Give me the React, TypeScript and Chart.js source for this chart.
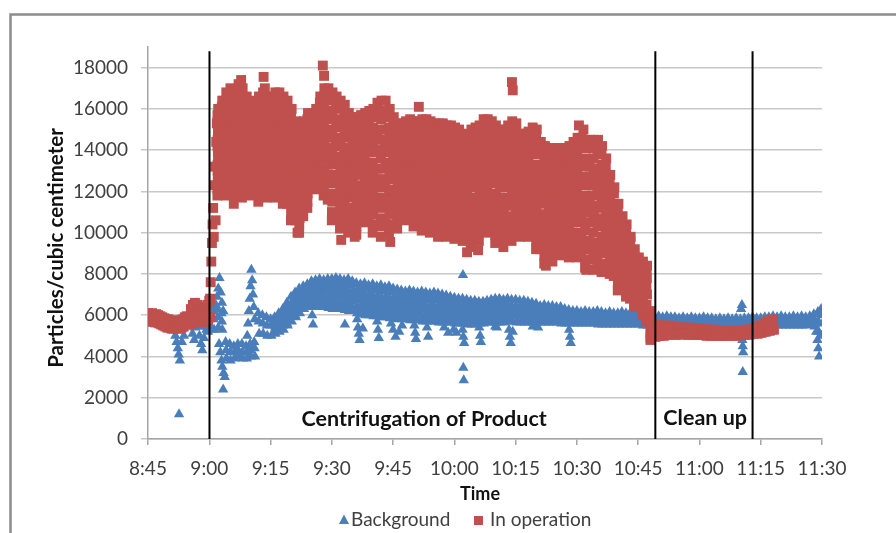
import { useEffect, useRef } from 'react';
import { Chart, registerables } from 'chart.js';

Chart.register(...registerables);

// ---------- axes ----------
const xTickTimes = [525, 540, 555, 570, 585, 600, 615, 630, 645, 660, 675, 690]; // minutes after midnight (8:45 .. 11:30)
const yTickValues = [0, 2000, 4000, 6000, 8000, 10000, 12000, 14000, 16000, 18000];
const xMin = 525;
const xMax = 690;
const yMin = 0;
const yMax = 19000;

// ---------- phase markers ----------
const phaseLineTimes = [540.05, 649.2, 673.0];
const phaseLineTop = 18800;
const phaseLabelTexts = ['Centrifugation of Product', 'Clean up'];
const phaseLabelTimes = [592.6, 661.4];
const phaseLabelValues = [950, 1000];

const legendLabels = ['Background', 'In operation'];

// ---------- "In operation" (red squares) ----------
const opPreStart = 525;
const opPreStep = 0.5;
const opPreHigh = [
  6100, 6050, 6100, 6000, 6050, 6000, 5950, 5900, 5850, 5800,
  5800, 5750, 5700, 5750, 5700, 5650, 5750, 5800, 5900, 5950,
  5900, 6300, 6500, 6600, 6500, 6300, 6200, 6250, 6400, 6500,
  6700,
];
const opPreLow = [
  5750, 5700, 5700, 5650, 5700, 5600, 5550, 5500, 5450, 5400,
  5400, 5350, 5350, 5400, 5350, 5350, 5400, 5450, 5550, 5600,
  5550, 5650, 5800, 5900, 5850, 5700, 5650, 5700, 5750, 5800,
  5900,
];

const opRiseTimes = [540.2, 540.35, 540.5, 540.65, 540.8, 540.95, 541.1, 541.25, 541.4, 541.55, 541.7, 541.85];
const opRiseValues = [6800, 7600, 8600, 9500, 10400, 11200, 9800, 12300, 13200, 10600, 14400, 15300];

// band 9:02 .. 10:48: one entry per minute, eight readings per minute (L0 lowest .. L7 highest)
const opBandStart = 542;
const opBandOffsets = [0, 0.1, 0.05, 0.15, 0.02, 0.12, 0.07, 0.17];
const opBandL0 = [
  11800, 12200, 11800, 12000, 11400, 11800, 11700, 12100, 11800, 11900,
  11500, 12000, 11700, 12100, 11700, 12000, 11400, 11400, 10600, 10600,
  10000, 10800, 11200, 12300, 12100, 12300, 11800, 11600, 10600, 10800,
  10200, 10800, 10000, 10200, 9900, 10600, 10500, 10800, 10000, 10400,
  9800, 10500, 10000, 10400, 10200, 10700, 10600, 10800, 10300, 10600,
  10100, 10500, 10000, 10300, 9800, 10200, 9800, 10100, 9700, 10000,
  9600, 9900, 9300, 9800, 9600, 10400, 10000, 10200, 9500, 9700,
  9300, 9800, 9600, 10200, 9800, 10300, 9800, 10000, 9200, 9200,
  8500, 8800, 8600, 9200, 8900, 9300, 8800, 9200, 8800, 9000,
  8300, 8700, 8200, 8600, 8100, 8400, 8000, 7900, 7200, 7300,
  6900, 6800, 6400, 6400, 6000, 5700, 4800,
];
const opBandL1 = [
  12400, 12900, 12500, 12800, 12200, 12600, 12500, 12800, 12500, 12600,
  12200, 12700, 12400, 12800, 12400, 12700, 12100, 12200, 11400, 11300,
  10700, 11500, 11900, 12800, 12700, 13000, 12500, 12400, 11500, 11700,
  11100, 11600, 10800, 11000, 10700, 11400, 11300, 11600, 10900, 11300,
  10700, 11400, 10900, 11200, 10900, 11500, 11300, 11500, 11000, 11300,
  10900, 11300, 10800, 11100, 10600, 11000, 10600, 10900, 10500, 10800,
  10300, 10600, 10100, 10600, 10400, 11200, 10800, 11000, 10300, 10500,
  10100, 10600, 10400, 11000, 10500, 11000, 10500, 10800, 10000, 10000,
  9300, 9600, 9400, 9900, 9600, 10000, 9600, 10000, 9600, 9900,
  9200, 9600, 9100, 9500, 9000, 9200, 8700, 8600, 7800, 7800,
  7400, 7300, 6800, 6800, 6400, 6100, 5000,
];
const opBandL2 = [
  13000, 13500, 13200, 13500, 12900, 13500, 13200, 13500, 13100, 13200,
  13000, 13500, 13100, 13500, 13200, 13500, 12900, 12900, 12100, 12100,
  11500, 12200, 12500, 13400, 13200, 13600, 13300, 13300, 12400, 12600,
  12000, 12500, 11700, 11900, 11500, 12200, 12000, 12400, 11700, 12200,
  11700, 12300, 11700, 12000, 11700, 12100, 12000, 12200, 11800, 12100,
  11600, 12000, 11500, 11800, 11400, 11800, 11300, 11700, 11200, 11500,
  11100, 11300, 10900, 11400, 11200, 12000, 11600, 11800, 11100, 11300,
  10900, 11500, 11300, 11800, 11200, 11700, 11300, 11600, 10900, 10800,
  10100, 10400, 10200, 10700, 10400, 10800, 10300, 10800, 10500, 10700,
  10100, 10500, 10000, 10400, 9800, 10000, 9400, 9200, 8400, 8400,
  7900, 7700, 7200, 7100, 6700, 6500, 5200,
];
const opBandL3 = [
  13600, 14200, 13900, 14300, 13700, 14300, 14000, 14200, 13800, 13900,
  13700, 14200, 13800, 14200, 13900, 14200, 13600, 13700, 12900, 12800,
  12200, 12900, 13200, 13900, 13800, 14300, 14000, 14100, 13300, 13500,
  12900, 13300, 12500, 12700, 12300, 13000, 12800, 13200, 12600, 13100,
  12600, 13200, 12600, 12800, 12400, 12900, 12700, 13000, 12500, 12800,
  12400, 12800, 12300, 12600, 12200, 12600, 12100, 12500, 12000, 12300,
  11800, 12100, 11700, 12300, 12000, 12800, 12400, 12600, 11900, 12200,
  11700, 12300, 12100, 12600, 11900, 12400, 12000, 12400, 11700, 11600,
  10900, 11300, 11000, 11500, 11100, 11500, 11100, 11600, 11300, 11600,
  11000, 11400, 10900, 11300, 10700, 10800, 10100, 9900, 9000, 8900,
  8400, 8200, 7600, 7500, 7100, 7000, 5400,
];
const opBandL4 = [
  14200, 14800, 14700, 15100, 14500, 15100, 14700, 14900, 14400, 14600,
  14400, 14900, 14500, 14900, 14600, 14900, 14400, 14500, 13700, 13500,
  13000, 13600, 13800, 14400, 14300, 15000, 14800, 14900, 14100, 14400,
  13700, 14100, 13300, 13500, 13200, 13700, 13500, 13900, 13400, 14000,
  13600, 14100, 13400, 13600, 13100, 13500, 13300, 13700, 13200, 13500,
  13200, 13600, 13100, 13400, 12900, 13300, 12900, 13200, 12800, 13100,
  12600, 12800, 12600, 13100, 12800, 13500, 13100, 13400, 12800, 13000,
  12600, 13100, 12900, 13300, 12700, 13100, 12700, 13100, 12500, 12400,
  11800, 12100, 11700, 12200, 11900, 12200, 11900, 12400, 12100, 12500,
  11800, 12300, 11800, 12200, 11600, 11600, 10700, 10600, 9600, 9400,
  8900, 8700, 8000, 7900, 7500, 7400, 5600,
];
const opBandL5 = [
  14800, 15400, 15400, 15800, 15300, 16000, 15500, 15600, 15100, 15200,
  15100, 15700, 15200, 15600, 15300, 15700, 15100, 15200, 14500, 14300,
  13700, 14300, 14500, 15000, 14900, 15600, 15500, 15800, 15000, 15300,
  14600, 15000, 14100, 14400, 14000, 14500, 14300, 14700, 14300, 14900,
  14500, 15000, 14300, 14400, 13800, 14300, 14000, 14400, 13900, 14300,
  14000, 14300, 13900, 14100, 13700, 14100, 13700, 14000, 13600, 13800,
  13300, 13500, 13400, 13900, 13600, 14300, 13900, 14200, 13600, 13800,
  13400, 14000, 13700, 14100, 13400, 13800, 13400, 13900, 13300, 13200,
  12600, 12900, 12500, 13000, 12600, 13000, 12700, 13200, 12900, 13300,
  12700, 13200, 12700, 13100, 12500, 12400, 11400, 11200, 10200, 10000,
  9400, 9100, 8400, 8200, 7900, 7800, 5800,
];
const opBandL6 = [
  15400, 16100, 16100, 16600, 16000, 16800, 16200, 16300, 15700, 15900,
  15900, 16400, 15900, 16300, 16100, 16400, 15900, 16000, 15200, 15000,
  14500, 15000, 15100, 15500, 15400, 16300, 16300, 16600, 15900, 16200,
  15500, 15800, 15000, 15200, 14800, 15300, 15000, 15500, 15100, 15800,
  15500, 15900, 15100, 15200, 14600, 14900, 14700, 15100, 14700, 15000,
  14700, 15100, 14600, 14900, 14500, 14900, 14400, 14800, 14300, 14600,
  14100, 14200, 14200, 14700, 14400, 15100, 14700, 15000, 14400, 14600,
  14200, 14800, 14600, 14900, 14100, 14500, 14200, 14700, 14200, 14000,
  13400, 13700, 13300, 13700, 13400, 13700, 13400, 14000, 13800, 14200,
  13600, 14100, 13600, 14000, 13300, 13200, 12100, 11900, 10800, 10500,
  9900, 9600, 8800, 8600, 8200, 8200, 6000,
];
const opBandL7 = [
  16000, 16400, 16800, 17000, 16800, 17200, 17000, 16600, 16400, 16200,
  16600, 16800, 16600, 16600, 16800, 16800, 16600, 16400, 16000, 15400,
  15200, 15400, 15800, 15800, 16000, 16600, 17000, 17000, 16800, 16600,
  16400, 16200, 15800, 15600, 15600, 15700, 15800, 15900, 16000, 16300,
  16400, 16400, 16000, 15600, 15300, 15300, 15400, 15500, 15400, 15400,
  15500, 15500, 15400, 15300, 15300, 15300, 15200, 15200, 15100, 15000,
  14800, 14600, 15000, 15100, 15200, 15500, 15500, 15400, 15200, 15000,
  15000, 15200, 15400, 15300, 14800, 14800, 14900, 15100, 15000, 14400,
  14200, 14100, 14100, 14100, 14100, 14100, 14200, 14400, 14600, 14600,
  14500, 14500, 14500, 14500, 14200, 13600, 12800, 12200, 11400, 10800,
  10400, 9800, 9200, 8800, 8600, 8400, 6200,
];
// additional readings in every second minute (9:02, 9:04, ... 10:48)
const opDenseStart = 542;
const opDenseStep = 2;
const opDenseOffsets = [0.03, 0.09, 0.04, 0.11, 0.06, 0.13, 0.01];
const opDenseH0 = [
  12100, 12200, 11800, 12100, 12100, 11900, 12100, 12100, 11800, 11000,
  10400, 11500, 12400, 12200, 11000, 10600, 10400, 10300, 10900, 10400,
  10300, 10400, 10600, 10900, 10700, 10500, 10400, 10200, 10200, 10100,
  10000, 9700, 10000, 10400, 9900, 9700, 10000, 10200, 10200, 9600,
  8900, 9000, 9300, 9200, 9200, 8700, 8700, 8500, 8300, 7500,
  7200, 6600, 6200, 4900,
];
const opDenseH1 = [
  12700, 12900, 12600, 12800, 12800, 12600, 12700, 12800, 12500, 11800,
  11100, 12200, 12900, 12900, 11900, 11500, 11200, 11100, 11600, 11300,
  11200, 11300, 11300, 11600, 11400, 11300, 11200, 11000, 11000, 10900,
  10700, 10500, 10800, 11200, 10700, 10500, 10800, 10900, 10900, 10400,
  9700, 9800, 10000, 10000, 10000, 9600, 9500, 9400, 9000, 8100,
  7700, 7000, 6600, 5100,
];
const opDenseH2 = [
  13300, 13600, 13300, 13600, 13400, 13300, 13500, 13500, 13300, 12500,
  11900, 12800, 13500, 13700, 12800, 12400, 12100, 11900, 12400, 12100,
  12200, 12100, 12000, 12300, 12100, 12000, 11900, 11800, 11700, 11600,
  11500, 11300, 11600, 12000, 11500, 11300, 11700, 11600, 11600, 11300,
  10500, 10600, 10800, 10700, 10900, 10500, 10500, 10300, 9700, 8700,
  8200, 7400, 6900, 5300,
];
const opDenseH3 = [
  13900, 14300, 14100, 14400, 14100, 14100, 14100, 14300, 14000, 13300,
  12600, 13500, 14100, 14400, 13700, 13300, 12900, 12800, 13200, 13000,
  13100, 13000, 12800, 13000, 12900, 12800, 12700, 12600, 12500, 12400,
  12200, 12200, 12400, 12800, 12400, 12200, 12500, 12300, 12400, 12100,
  11400, 11400, 11500, 11500, 11700, 11400, 11300, 11200, 10400, 9300,
  8700, 7800, 7300, 5500,
];
const opDenseH4 = [
  14500, 15000, 14900, 15100, 14800, 14800, 14900, 15000, 14700, 14100,
  13300, 14200, 14600, 15100, 14600, 14200, 13700, 13600, 13900, 13900,
  14000, 13900, 13500, 13700, 13600, 13600, 13500, 13300, 13300, 13200,
  12900, 13000, 13200, 13500, 13200, 13000, 13300, 13000, 13100, 12900,
  12200, 12100, 12200, 12300, 12500, 12300, 12300, 12000, 11100, 9900,
  9200, 8200, 7700, 5700,
];
const opDenseH5 = [
  15100, 15700, 15600, 15900, 15400, 15500, 15500, 15700, 15500, 14800,
  14100, 14800, 15200, 15900, 15500, 15100, 14600, 14400, 14700, 14700,
  15000, 14700, 14200, 14400, 14300, 14300, 14200, 14100, 14000, 13900,
  13700, 13800, 14000, 14300, 14000, 13800, 14200, 13700, 13800, 13800,
  13000, 12900, 13000, 13000, 13400, 13200, 13100, 12900, 11800, 10500,
  9700, 8600, 8000, 5900,
];
const opDenseH6 = [
  15700, 16400, 16400, 16600, 16100, 16200, 16300, 16400, 16200, 15600,
  14800, 15500, 15700, 16600, 16400, 16000, 15400, 15200, 15400, 15600,
  15900, 15600, 14900, 15100, 15000, 15100, 15000, 14900, 14800, 14700,
  14400, 14600, 14800, 15100, 14800, 14600, 15000, 14400, 14500, 14600,
  13800, 13700, 13700, 13800, 14200, 14100, 14100, 13800, 12500, 11100,
  10200, 9000, 8400, 6100,
];

const opExtraTimes = [547.8, 553.3, 553.6, 567.8, 568.1, 591.3, 614.1, 614.3, 630.5, 631.6, 561.6, 572.3, 575.6, 584.3, 603.1, 605.8, 622.4, 632.3, 636.2];
const opExtraValues = [17400, 17550, 17000, 18100, 17600, 16100, 17300, 16900, 15200, 15000, 10000, 9650, 9800, 9550, 9050, 9150, 8400, 8200, 8100];

const opPostStart = 649;
const opPostStep = 0.5;
const opPostHigh = [
  5500, 5550, 5500, 5450, 5500, 5450, 5450, 5500, 5400, 5450,
  5400, 5450, 5400, 5400, 5350, 5400, 5350, 5400, 5350, 5350,
  5300, 5350, 5300, 5350, 5300, 5300, 5250, 5300, 5250, 5300,
  5250, 5250, 5200, 5250, 5200, 5250, 5200, 5200, 5250, 5200,
  5250, 5200, 5250, 5200, 5250, 5300, 5250, 5300, 5350, 5300,
  5400, 5450, 5500, 5500, 5600, 5650, 5700, 5750, 5800,
];
const opPostLow = [
  4950, 5000, 5000, 5050, 5000, 5050, 5050, 5100, 5050, 5100,
  5050, 5100, 5100, 5050, 5100, 5100, 5050, 5100, 5050, 5100,
  5050, 5050, 5100, 5050, 5050, 5000, 5050, 5000, 5050, 5000,
  5050, 5000, 5000, 5050, 5000, 5050, 5000, 5050, 5000, 5050,
  5000, 5050, 5050, 5100, 5050, 5100, 5050, 5100, 5100, 5150,
  5100, 5150, 5150, 5200, 5200, 5250, 5250, 5300, 5300,
];

// ---------- "Background" (blue triangles) ----------
const bgPreStart = 525;
const bgPreStep = 1;
const bgPreHigh = [5900, 5950, 5900, 5850, 5800, 5750, 5700, 5700, 5750, 5800, 5850, 5800, 5850, 5900, 5950, 5900];
const bgPreLow = [5600, 5600, 5550, 5500, 5450, 5400, 5400, 5350, 5450, 5500, 5500, 5400, 5450, 5450, 5500, 5400];

const bgMainStart = 541;
const bgMainOffsets = [0, 0.1, 0.2];
const bgTop = [
  6200, 6300, 6100, 4700, 4600, 4500, 4600, 4600, 4500, 4600,
  4700, 6100, 6000, 5900, 5800, 5900, 6100, 6300, 6600, 6900,
  7100, 7300, 7400, 7500, 7650, 7700, 7750, 7700, 7750, 7750,
  7800, 7750, 7700, 7750, 7650, 7550, 7500, 7550, 7450, 7500,
  7400, 7450, 7350, 7400, 7300, 7250, 7200, 7150, 7200, 7150,
  7100, 7150, 7100, 7050, 7100, 7050, 7000, 6950, 6900, 6850,
  6800, 6800, 6750, 6700, 6700, 6650, 6650, 6700, 6750, 6800,
  6800, 6750, 6800, 6750, 6750, 6700, 6700, 6650, 6600, 6550,
  6450, 6500, 6450, 6450, 6400, 6400, 6300, 6250, 6200, 6200,
  6150, 6200, 6150, 6150, 6200, 6150, 6100, 6150, 6100, 6100,
  6150, 6100, 6100, 6050, 6100, 6050, 6000, 5950, 5900, 5950,
  5900, 5950, 5900, 5900, 5850, 5900, 5850, 5900, 5850, 5850,
  5900, 5850, 5850, 5800, 5850, 5800, 5850, 5800, 5850, 5800,
  5850, 5850, 5900, 5850, 5850, 5900, 5900, 5950, 5900, 5950,
  5900, 5900, 5950, 5900, 5950, 5900, 5950, 6050, 6150, 6050,
];
const bgMid = [
  5800, 5900, 5700, 4300, 4200, 4200, 4300, 4200, 4200, 4300,
  4400, 5700, 5600, 5500, 5500, 5500, 5700, 5900, 6100, 6300,
  6500, 6700, 6850, 6950, 7050, 7100, 7150, 7100, 7100, 7050,
  7100, 7050, 7000, 7000, 6950, 6850, 6800, 6800, 6750, 6750,
  6700, 6700, 6650, 6650, 6600, 6550, 6550, 6500, 6500, 6450,
  6450, 6450, 6400, 6400, 6400, 6350, 6350, 6300, 6300, 6250,
  6250, 6200, 6200, 6150, 6150, 6150, 6150, 6150, 6200, 6200,
  6200, 6200, 6200, 6200, 6200, 6150, 6150, 6150, 6100, 6100,
  6050, 6050, 6050, 6050, 6000, 6000, 6000, 5950, 5950, 5950,
  5950, 5950, 5900, 5900, 5900, 5900, 5900, 5900, 5850, 5850,
  5850, 5850, 5850, 5850, 5850, 5800, 5800, 5750, 5750, 5750,
  5750, 5750, 5750, 5700, 5700, 5700, 5700, 5700, 5700, 5700,
  5700, 5700, 5650, 5650, 5650, 5650, 5650, 5650, 5650, 5650,
  5700, 5700, 5700, 5700, 5700, 5700, 5750, 5750, 5750, 5750,
  5750, 5750, 5750, 5750, 5800, 5750, 5800, 5800, 5700, 5600,
];
const bgBot = [
  5300, 5400, 5300, 3900, 3800, 3900, 4000, 3900, 3900, 4000,
  4000, 5100, 5100, 5000, 5000, 5100, 5200, 5300, 5500, 5700,
  5900, 6100, 6300, 6400, 6400, 6400, 6450, 6400, 6350, 6300,
  6350, 6300, 6250, 6200, 6200, 6100, 6050, 6000, 6000, 5950,
  5950, 5900, 5900, 5850, 5850, 5800, 5800, 5800, 5750, 5750,
  5750, 5700, 5700, 5700, 5700, 5650, 5650, 5650, 5650, 5600,
  5600, 5600, 5550, 5550, 5550, 5600, 5600, 5650, 5650, 5650,
  5650, 5650, 5700, 5700, 5650, 5650, 5650, 5650, 5650, 5650,
  5650, 5650, 5650, 5650, 5650, 5600, 5600, 5600, 5600, 5600,
  5600, 5600, 5600, 5600, 5550, 5550, 5550, 5550, 5550, 5550,
  5550, 5550, 5550, 5550, 5550, 5500, 5500, 5450, 5450, 5500,
  5500, 5500, 5500, 5500, 5500, 5500, 5500, 5500, 5450, 5450,
  5450, 5450, 5450, 5450, 5450, 5450, 5450, 5450, 5450, 5450,
  5450, 5450, 5450, 5450, 5450, 5450, 5500, 5500, 5500, 5500,
  5500, 5500, 5500, 5500, 5500, 5500, 5550, 5450, 5200, 5100,
];
// extra readings in the thick part of the band, 9:16 .. 10:12
const bgFillStart = 556;
const bgFillOffsets = [0.05, 0.15, 0.25, 0.3];
const bgFill1 = [
  5250, 5300, 5500, 5600, 5950, 6000, 6350, 6400, 6600, 6500,
  6650, 6600, 6650, 6500, 6600, 6500, 6600, 6400, 6500, 6350,
  6400, 6200, 6300, 6150, 6250, 6100, 6200, 6050, 6150, 6000,
  6100, 5950, 6050, 5900, 6050, 5900, 6000, 5850, 5950, 5850,
  5950, 5800, 5900, 5800, 5850, 5700, 5850, 5650, 5800, 5650,
  5800, 5700, 5850, 5750, 5900, 5750, 5850,
];
const bgFill2 = [
  5400, 5450, 5700, 5850, 6200, 6250, 6600, 6650, 6850, 6800,
  6900, 6850, 6900, 6750, 6900, 6800, 6900, 6700, 6800, 6650,
  6700, 6500, 6600, 6450, 6550, 6400, 6500, 6350, 6450, 6300,
  6400, 6200, 6350, 6200, 6300, 6150, 6300, 6100, 6250, 6100,
  6200, 6050, 6150, 6050, 6100, 5950, 6100, 5900, 6000, 5900,
  6000, 5900, 6050, 6000, 6100, 6000, 6100,
];
const bgFill3 = [
  5600, 5850, 5900, 6250, 6400, 6750, 6800, 7050, 7050, 7300,
  7200, 7350, 7200, 7350, 7150, 7350, 7150, 7250, 7150, 7200,
  6950, 7050, 6950, 7000, 6900, 6950, 6850, 6900, 6800, 6850,
  6650, 6800, 6600, 6750, 6600, 6700, 6550, 6700, 6500, 6700,
  6500, 6600, 6450, 6500, 6350, 6450, 6300, 6400, 6250, 6350,
  6250, 6350, 6300, 6400, 6350, 6450, 6300,
];
const bgFill4 = [
  5750, 6000, 6100, 6500, 6650, 7000, 7050, 7300, 7300, 7550,
  7450, 7600, 7450, 7600, 7450, 7650, 7450, 7550, 7450, 7500,
  7250, 7350, 7250, 7300, 7200, 7250, 7150, 7200, 7100, 7150,
  6950, 7050, 6900, 7050, 6850, 6950, 6850, 6950, 6800, 6950,
  6750, 6850, 6700, 6750, 6600, 6700, 6450, 6600, 6450, 6550,
  6450, 6550, 6500, 6650, 6550, 6700, 6550,
];
// extra readings 10:13 .. 10:50
const bgLateStart = 613;
const bgLateOffsets = [0.05, 0.15];
const bgLateUpper = [
  6500, 6450, 6450, 6400, 6450, 6400, 6350, 6300, 6250, 6250,
  6250, 6250, 6200, 6200, 6150, 6100, 6050, 6050, 6050, 6050,
  6000, 6000, 6050, 6000, 6000, 6000, 5950, 5950, 6000, 5950,
  5950, 5950, 5950, 5900, 5900, 5850, 5800, 5850,
];
const bgLateLower = [
  5950, 5950, 5950, 5900, 5900, 5900, 5850, 5850, 5850, 5850,
  5850, 5850, 5800, 5800, 5800, 5750, 5750, 5750, 5750, 5750,
  5750, 5750, 5700, 5700, 5700, 5700, 5700, 5700, 5700, 5700,
  5700, 5700, 5700, 5650, 5650, 5600, 5600, 5600,
];

const bgExtraTimes = [
  531.7, 532.0, 532.3, 532.5, 532.8, 533.3, 533.8, 532.6,
  535.9, 536.3, 537.6, 538.0, 538.3, 538.7, 539.3, 539.7, 540.3, 540.6,
  541.6, 541.9, 542.2, 542.5, 542.8, 543.1, 543.4,
  542.4, 542.7, 543.0, 543.2, 543.5, 543.8, 543.4,
  549.3, 549.5, 549.7, 549.9, 550.1, 550.3, 550.5, 550.7, 550.9, 551.1,
  565.2, 565.4, 573.2, 576.2, 576.4, 576.6, 576.8, 577.6, 581.1, 581.3, 581.5,
  584.5, 585.0, 585.6, 586.5, 587.2, 590.2, 590.4, 590.6, 593.3, 593.6,
  597.5, 598.5, 599.8, 600.5, 602.0, 602.2, 602.4, 602.2, 602.3, 602.1,
  606.1, 606.3, 606.5, 610.0, 610.4, 613.4, 613.6, 613.8, 614.3, 619.2, 620.5,
  628.1, 628.3, 628.5,
  670.2, 670.4, 670.4, 670.5, 670.6, 670.7, 670.6,
  688.3, 688.6, 688.9, 689.1, 689.3, 689.6, 689.8, 690.0,
];
const bgExtraValues = [
  5000, 4700, 4400, 4100, 3800, 4700, 5000, 1200,
  5100, 4800, 5000, 4600, 4300, 4900, 5300, 5200, 5400, 5300,
  6500, 6900, 7300, 7800, 7100, 6600, 6200,
  4600, 4200, 3800, 3500, 3200, 3000, 2400,
  5000, 5600, 6200, 6800, 7400, 8200, 7700, 7000, 6400, 5800,
  6000, 5550, 5550, 5800, 5400, 5100, 4800, 5350, 5700, 5300, 4900,
  5600, 5300, 4950, 5200, 5500, 5500, 5150, 4850, 5400, 4950,
  5400, 5150, 5300, 5150, 5300, 4950, 4650, 3450, 2850, 7950,
  5400, 5000, 4700, 5450, 5400, 5300, 4950, 4650, 5200, 5450, 5400,
  5300, 4950, 4650,
  6300, 6500, 5200, 4800, 4500, 4200, 3250,
  5600, 5200, 4800, 4400, 4000, 5000, 6300, 6000,
];

// ---------- colours ----------
const RED = '#c0504d';
const BLUE = '#4a7ebb';
const TEXT = '#404040';
const FONT = 'Lato, "Open Sans", sans-serif';

type P = { x: number; y: number };

function regular(start: number, step: number, values: number[], offset = 0): P[] {
  return values.map((v, i) => ({ x: start + i * step + offset, y: v }));
}
function paired(times: number[], values: number[]): P[] {
  return times.map((t, i) => ({ x: t, y: values[i] }));
}

function buildOperation(): P[] {
  const pts: P[] = [];
  pts.push(...regular(opPreStart, opPreStep, opPreHigh));
  pts.push(...regular(opPreStart, opPreStep, opPreLow, 0.25));
  pts.push(...paired(opRiseTimes, opRiseValues));
  [opBandL0, opBandL1, opBandL2, opBandL3, opBandL4, opBandL5, opBandL6, opBandL7].forEach((arr, k) => {
    pts.push(...regular(opBandStart, 1, arr, opBandOffsets[k]));
  });
  [opDenseH0, opDenseH1, opDenseH2, opDenseH3, opDenseH4, opDenseH5, opDenseH6].forEach((arr, k) => {
    pts.push(...regular(opDenseStart, opDenseStep, arr, opDenseOffsets[k]));
  });
  pts.push(...paired(opExtraTimes, opExtraValues));
  pts.push(...regular(opPostStart, opPostStep, opPostHigh));
  pts.push(...regular(opPostStart, opPostStep, opPostLow, 0.25));
  return pts;
}

function buildBackground(): P[] {
  const pts: P[] = [];
  pts.push(...regular(bgPreStart, bgPreStep, bgPreHigh));
  pts.push(...regular(bgPreStart, bgPreStep, bgPreLow, 0.5));
  [bgTop, bgMid, bgBot].forEach((arr, k) => {
    pts.push(...regular(bgMainStart, 1, arr, bgMainOffsets[k]));
  });
  [bgFill1, bgFill2, bgFill3, bgFill4].forEach((arr, k) => {
    pts.push(...regular(bgFillStart, 1, arr, bgFillOffsets[k]));
  });
  [bgLateUpper, bgLateLower].forEach((arr, k) => {
    pts.push(...regular(bgLateStart, 1, arr, bgLateOffsets[k]));
  });
  pts.push(...paired(bgExtraTimes, bgExtraValues));
  return pts;
}

function fmtTime(v: number): string {
  const h = Math.floor(v / 60);
  const m = Math.round(v - h * 60);
  return `${h}:${m < 10 ? '0' + m : m}`;
}

const decorPlugin = {
  id: 'decor',
  beforeDraw(chart: any) {
    const ctx = chart.ctx;
    ctx.save();
    ctx.strokeStyle = '#8c8c8c';
    ctx.lineWidth = 2.5;
    ctx.strokeRect(10.5, 14.5, 1400, 1400);
    ctx.restore();
  },
  afterDatasetsDraw(chart: any) {
    const ctx = chart.ctx;
    const xs = chart.scales.x;
    const ys = chart.scales.y;
    ctx.save();
    ctx.fillStyle = '#111';
    ctx.font = `bold 21.5px ${FONT}`;
    ctx.textAlign = 'center';
    ctx.textBaseline = 'middle';
    phaseLabelTexts.forEach((t, i) => {
      ctx.fillText(t, xs.getPixelForValue(phaseLabelTimes[i]), ys.getPixelForValue(phaseLabelValues[i]));
    });
    ctx.restore();
  },
  afterDraw(chart: any) {
    const ctx = chart.ctx;
    const area = chart.chartArea;
    ctx.save();
    ctx.fillStyle = '#111';
    ctx.textAlign = 'center';
    ctx.textBaseline = 'middle';
    ctx.font = `bold 18px ${FONT}`;
    ctx.fillText('Time', (area.left + area.right) / 2 - 5, 494);
    ctx.save();
    ctx.translate(56, 248);
    ctx.rotate(-Math.PI / 2);
    ctx.font = `bold 20.5px ${FONT}`;
    ctx.fillText('Particles/cubic centimeter', 0, 0);
    ctx.restore();
    // legend
    const ly = 520;
    ctx.font = `19px ${FONT}`;
    ctx.textAlign = 'left';
    ctx.fillStyle = BLUE;
    ctx.beginPath();
    ctx.moveTo(344, ly - 5.5);
    ctx.lineTo(349, ly + 4);
    ctx.lineTo(339, ly + 4);
    ctx.closePath();
    ctx.fill();
    ctx.fillStyle = TEXT;
    ctx.fillText(legendLabels[0], 351, ly);
    ctx.fillStyle = RED;
    ctx.fillRect(474, ly - 4, 9, 9);
    ctx.fillStyle = TEXT;
    ctx.fillText(legendLabels[1], 490, ly);
    ctx.restore();
  },
};

export default function App() {
  const ref = useRef<HTMLCanvasElement>(null);

  useEffect(() => {
    if (!ref.current) return;
    const lineSets = phaseLineTimes.map((t) => ({
      label: 'phase',
      data: [{ x: t, y: 0 }, { x: t, y: phaseLineTop }],
      showLine: true,
      borderColor: '#000',
      borderWidth: 2,
      pointRadius: 0,
      order: 0,
    }));
    const chart = new Chart(ref.current, {
      type: 'scatter',
      data: {
        datasets: [
          ...lineSets,
          {
            label: legendLabels[1],
            data: buildOperation(),
            pointStyle: 'rect',
            pointRadius: 7.0,
            pointBorderWidth: 0,
            backgroundColor: RED,
            borderColor: RED,
            order: 1,
          },
          {
            label: legendLabels[0],
            data: buildBackground(),
            pointStyle: 'triangle',
            pointRadius: 6.0,
            pointBorderWidth: 0,
            backgroundColor: BLUE,
            borderColor: BLUE,
            order: 2,
          },
        ],
      } as any,
      options: {
        animation: false,
        responsive: false,
        maintainAspectRatio: false,
        devicePixelRatio: 1,
        events: [],
        layout: { padding: { left: 0, right: 74, top: 47, bottom: 0 } },
        plugins: {
          legend: { display: false },
          tooltip: { enabled: false },
        },
        scales: {
          x: {
            type: 'linear',
            min: xMin,
            max: xMax,
            afterBuildTicks: (s: any) => {
              s.ticks = xTickTimes.map((v) => ({ value: v }));
            },
            afterFit: (s: any) => {
              s.height = 94;
            },
            ticks: {
              callback: (v: any) => fmtTime(Number(v)),
              font: { family: FONT, size: 19 },
              color: TEXT,
              padding: 12,
              maxRotation: 0,
              autoSkip: false,
            },
            grid: {
              drawOnChartArea: false,
              drawTicks: true,
              tickLength: 6,
              color: '#a6a6a6',
              lineWidth: 1.5,
            },
            border: { display: true, color: '#a6a6a6', width: 1.5 },
          },
          y: {
            type: 'linear',
            min: yMin,
            max: yMax,
            afterBuildTicks: (s: any) => {
              s.ticks = yTickValues.map((v) => ({ value: v }));
            },
            afterFit: (s: any) => {
              s.width = 148;
            },
            ticks: {
              font: { family: FONT, size: 19 },
              color: TEXT,
              padding: 13,
              autoSkip: false,
              callback: (v: any) => String(v),
            },
            grid: {
              drawOnChartArea: true,
              drawTicks: true,
              tickLength: 7,
              color: '#c8c8c8',
              lineWidth: 1.5,
            },
            border: { display: true, color: '#a6a6a6', width: 1.5 },
          },
        },
      },
      plugins: [decorPlugin],
    } as any);
    return () => chart.destroy();
  }, []);

  return (
    <div style={{ position: 'absolute', left: 0, top: 0, width: 896, height: 533, background: '#fff' }}>
      <canvas ref={ref} width={896} height={533} style={{ display: 'block', width: 896, height: 533 }} />
    </div>
  );
}
